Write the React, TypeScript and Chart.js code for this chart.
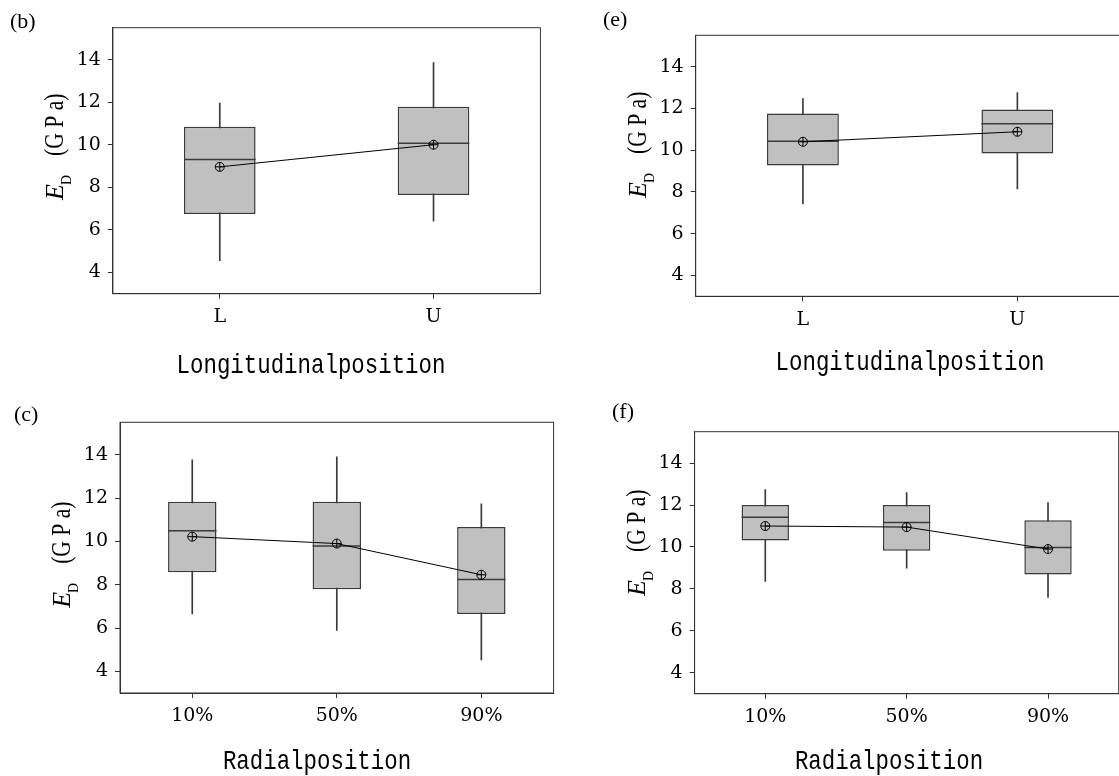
import React, { useEffect, useRef } from 'react';
import { Chart, registerables } from 'chart.js';

Chart.register(...registerables);

// ---------------- data ----------------
const longitudinalCategories = ['L', 'U'];
const radialCategories = ['10%', '50%', '90%'];
const yTickValues = [4, 6, 8, 10, 12, 14];

// panel (b)
const bMin = [4.55, 6.41];
const bQ1 = [6.74, 7.64];
const bMedian = [9.31, 10.07];
const bQ3 = [10.84, 11.79];
const bMax = [11.96, 13.86];
const bMean = [8.96, 10.0];

// panel (e)
const eMin = [7.42, 8.14];
const eQ1 = [9.27, 9.84];
const eMedian = [10.43, 11.26];
const eQ3 = [11.75, 11.95];
const eMax = [12.47, 12.76];
const eMean = [10.4, 10.88];

// panel (c)
const cMin = [6.65, 5.89, 4.53];
const cQ1 = [8.58, 7.79, 6.65];
const cMedian = [10.49, 9.79, 8.24];
const cQ3 = [11.83, 11.83, 10.66];
const cMax = [13.77, 13.91, 11.74];
const cMean = [10.22, 9.9, 8.46];

// panel (f)
const fMin = [8.36, 8.99, 7.59];
const fQ1 = [10.31, 9.82, 8.69];
const fMedian = [11.42, 11.17, 9.98];
const fQ3 = [12.0, 12.0, 11.28];
const fMax = [12.74, 12.59, 12.12];
const fMean = [11.0, 10.95, 9.9];

// ---------------- styling / layout ----------------
const SERIF = "'Liberation Serif', 'Times New Roman', serif";
const TICK_SERIF = "'DejaVu Serif', serif";
const MONO = "'Liberation Mono', 'Courier New', monospace";
const BOX_FRAC = 0.335;
const LINE_COLOR = '#3a3a3a';

type PanelSpec = {
  left: number; top: number; width: number; height: number;
  area: { l: number; r: number; t: number; b: number };
  label: string; labelX: number; labelBaseline: number;
  xTitle: string; xTitleCenter: number; xTitleBaseline: number;
  yTitleShift: number;
  categories: string[];
  min: number[]; q1: number[]; median: number[]; q3: number[]; max: number[]; mean: number[];
};

const panels: PanelSpec[] = [
  {
    left: 0, top: 0, width: 560, height: 390,
    area: { l: 112.9, r: 540.4, t: 27.7, b: 293.7 },
    label: '(b)', labelX: 10, labelBaseline: 28,
    xTitle: 'Longitudinalposition', xTitleCenter: 311, xTitleBaseline: 373,
    yTitleShift: -14,
    categories: longitudinalCategories,
    min: bMin, q1: bQ1, median: bMedian, q3: bQ3, max: bMax, mean: bMean,
  },
  {
    left: 560, top: 0, width: 570, height: 390,
    area: { l: 695.7, r: 1124.6, t: 35.3, b: 296.3 },
    label: '(e)', labelX: 603, labelBaseline: 26,
    xTitle: 'Longitudinalposition', xTitleCenter: 910, xTitleBaseline: 369.5,
    yTitleShift: -21,
    categories: longitudinalCategories,
    min: eMin, q1: eQ1, median: eMedian, q3: eQ3, max: eMax, mean: eMean,
  },
  {
    left: 0, top: 390, width: 560, height: 386,
    area: { l: 120, r: 553.6, t: 422.3, b: 693 },
    label: '(c)', labelX: 14, labelBaseline: 421,
    xTitle: 'Radialposition', xTitleCenter: 317, xTitleBaseline: 768.5,
    yTitleShift: -3,
    categories: radialCategories,
    min: cMin, q1: cQ1, median: cMedian, q3: cQ3, max: cMax, mean: cMean,
  },
  {
    left: 560, top: 390, width: 560, height: 386,
    area: { l: 694.6, r: 1118.7, t: 431.7, b: 693.7 },
    label: '(f)', labelX: 612, labelBaseline: 418,
    xTitle: 'Radialposition', xTitleCenter: 889, xTitleBaseline: 769,
    yTitleShift: -20,
    categories: radialCategories,
    min: fMin, q1: fQ1, median: fMedian, q3: fQ3, max: fMax, mean: fMean,
  },
];

function Panel({ spec }: { spec: PanelSpec }) {
  const ref = useRef<HTMLCanvasElement>(null);

  useEffect(() => {
    const canvas = ref.current;
    if (!canvas) return;
    const s = spec;
    const yAxisWidth = s.area.l - s.left;
    const xAxisHeight = s.top + s.height - s.area.b;

    const whiskers = s.min.map((v, i) => [v, s.max[i]]);
    const boxes = s.q1.map((v, i) => [v, s.q3[i]]);

    const decor = {
      id: 'decor',
      afterDraw(chart: any) {
        const ctx = chart.ctx as CanvasRenderingContext2D;
        const a = chart.chartArea;
        ctx.save();
        // frame
        ctx.strokeStyle = '#333';
        ctx.lineWidth = 1;
        ctx.strokeRect(a.left, a.top, a.right - a.left, a.bottom - a.top);
        ctx.fillStyle = '#000';
        // panel label
        ctx.font = `22px ${SERIF}`;
        ctx.textAlign = 'left';
        ctx.textBaseline = 'alphabetic';
        ctx.fillText(s.label, s.labelX - s.left, s.labelBaseline - s.top);
        // x title (condensed monospace serif)
        ctx.save();
        ctx.translate(s.xTitleCenter - s.left, s.xTitleBaseline - s.top);
        ctx.scale(0.8, 1);
        ctx.font = `28px ${MONO}`;
        ctx.textAlign = 'center';
        ctx.fillText(s.xTitle, 0, 0);
        ctx.restore();
        // y title (rotated)
        const yc = (a.top + a.bottom) / 2 + s.yTitleShift;
        const xb = a.left - 50;
        ctx.translate(xb, yc);
        ctx.rotate(-Math.PI / 2);
        ctx.textAlign = 'left';
        const fE = `italic 26px ${SERIF}`;
        const fD = `14px ${SERIF}`;
        const fU = `27px ${SERIF}`;
        const unitScale = 0.8;
        const unit = '(G P a)';
        ctx.font = fE; const wE = ctx.measureText('E').width;
        ctx.font = fD; const wD = ctx.measureText('D').width;
        ctx.font = fU; const wU = ctx.measureText(unit).width * unitScale;
        const gap = 18;
        let x = -(wE + wD + gap + wU) / 2;
        ctx.font = fE; ctx.fillText('E', x, 0); x += wE;
        ctx.font = fD; ctx.fillText('D', x - 1, 8); x += wD + gap;
        ctx.translate(x, 0);
        ctx.scale(unitScale, 1);
        ctx.font = fU; ctx.fillText(unit, 0, 0);
        ctx.restore();
      },
    };

    const medianRadius = (ctx: any) => {
      const sc = ctx.chart.scales.x;
      if (!sc || !sc.width) return 0;
      return (sc.width / s.categories.length) * BOX_FRAC / 2;
    };

    const tickFont = { family: TICK_SERIF, size: 19 };

    const chart = new Chart(canvas, {
      type: 'bar',
      data: {
        labels: s.categories,
        datasets: [
          {
            type: 'bar',
            data: whiskers as any,
            backgroundColor: LINE_COLOR,
            barThickness: 1,
            grouped: false,
            order: 5,
          } as any,
          {
            type: 'bar',
            data: boxes as any,
            backgroundColor: '#c0c0c0',
            borderColor: LINE_COLOR,
            borderWidth: 1.5,
            borderSkipped: false,
            barPercentage: BOX_FRAC,
            categoryPercentage: 1,
            grouped: false,
            order: 4,
          } as any,
          {
            type: 'line',
            data: s.median,
            showLine: false,
            pointStyle: 'line',
            pointRadius: medianRadius,
            pointBorderColor: LINE_COLOR,
            pointBorderWidth: 1.5,
            order: 3,
          } as any,
          {
            type: 'line',
            data: s.mean,
            borderColor: '#000',
            borderWidth: 1,
            pointStyle: 'circle',
            pointRadius: 4.5,
            pointBackgroundColor: 'rgba(0,0,0,0)',
            pointBorderColor: '#000',
            pointBorderWidth: 1,
            order: 2,
          } as any,
          {
            type: 'line',
            data: s.mean,
            showLine: false,
            pointStyle: 'cross',
            pointRadius: 4.5,
            pointBorderColor: '#000',
            pointBorderWidth: 1,
            order: 1,
          } as any,
        ],
      },
      options: {
        animation: false,
        responsive: false,
        maintainAspectRatio: false,
        events: [],
        layout: {
          autoPadding: false,
          padding: {
            top: s.area.t - s.top,
            right: s.left + s.width - s.area.r,
            left: 0,
            bottom: 0,
          },
        } as any,
        plugins: {
          legend: { display: false },
          tooltip: { enabled: false },
          title: { display: false },
        },
        scales: {
          x: {
            type: 'category',
            offset: true,
            grid: {
              offset: false,
              drawOnChartArea: false,
              drawTicks: true,
              tickLength: 5,
              color: '#333',
            },
            border: { display: true, color: '#333' },
            ticks: { font: tickFont, color: '#000', padding: 7, maxRotation: 0, autoSkip: false },
            afterFit: (scale: any) => { scale.height = xAxisHeight; },
          },
          y: {
            type: 'linear',
            min: 3,
            max: 15.5,
            afterBuildTicks: (scale: any) => {
              scale.ticks = yTickValues.map((v) => ({ value: v }));
            },
            grid: { drawOnChartArea: false, drawTicks: true, tickLength: 5, color: '#333' },
            border: { display: true, color: '#333' },
            ticks: { font: tickFont, color: '#000', padding: 7 },
            afterFit: (scale: any) => { scale.width = yAxisWidth; },
          },
        },
      } as any,
      plugins: [decor],
    });

    return () => chart.destroy();
  }, [spec]);

  return (
    <div style={{ position: 'absolute', left: spec.left, top: spec.top, width: spec.width, height: spec.height }}>
      <canvas ref={ref} width={spec.width} height={spec.height} style={{ display: 'block' }} />
    </div>
  );
}

export default function App() {
  return (
    <div
      style={{
        position: 'absolute',
        left: 0,
        top: 0,
        width: 1119,
        height: 776,
        overflow: 'hidden',
        background: '#fff',
      }}
    >
      {panels.map((p) => (
        <Panel key={p.label} spec={p} />
      ))}
    </div>
  );
}
